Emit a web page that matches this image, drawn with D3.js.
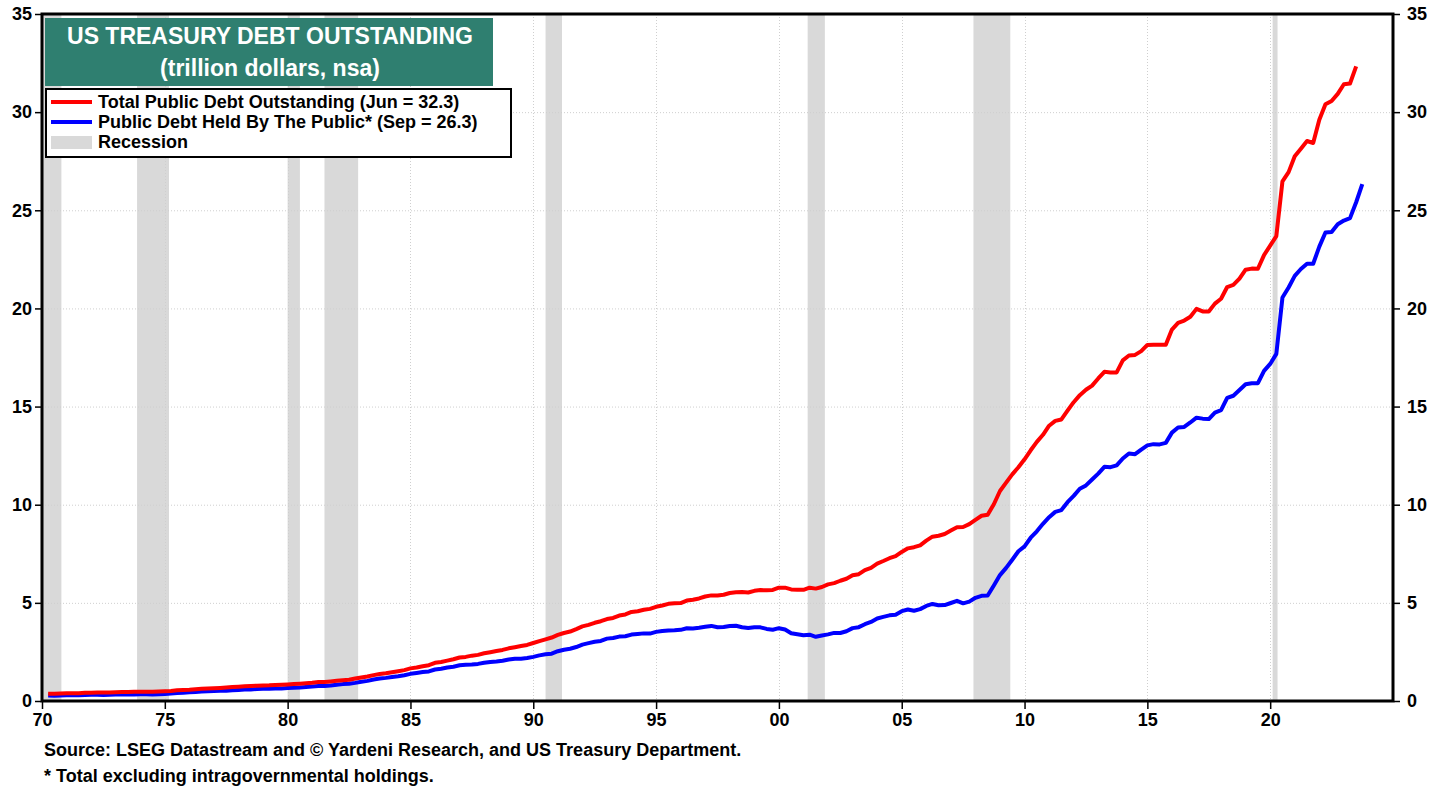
<!DOCTYPE html>
<html>
<head>
<meta charset="utf-8">
<script src="https://cdn.jsdelivr.net/npm/d3@7"></script>
<style>
  html, body { margin: 0; padding: 0; background: #fff; }
  svg { display: block; font-family: "Liberation Sans", Arial, sans-serif; }
</style>
</head>
<body>
<svg id="chart" width="1446" height="789"></svg>
<script>
// ---------- DATA (quarter-end values, trillion dollars) ----------
const firstYear = 1970; // first value is 1970 Q1 (end of March)

// Total Public Debt Outstanding, 1970Q1 .. 2023Q2
const totalDebt = [
  0.372, 0.371, 0.381, 0.389,   0.391, 0.398, 0.415, 0.424,
  0.428, 0.427, 0.437, 0.449,   0.458, 0.458, 0.466, 0.470,
  0.474, 0.475, 0.483, 0.493,   0.509, 0.544, 0.563, 0.577,
  0.599, 0.620, 0.634, 0.654,   0.667, 0.686, 0.709, 0.729,
  0.749, 0.763, 0.780, 0.790,   0.797, 0.812, 0.827, 0.845,
  0.863, 0.883, 0.907, 0.930,   0.964, 0.971, 0.998, 1.028,
  1.062, 1.080, 1.142, 1.197,   1.245, 1.319, 1.377, 1.410,
  1.464, 1.517, 1.572, 1.663,   1.710, 1.774, 1.823, 1.945,
  1.986, 2.059, 2.125, 2.214,   2.246, 2.310, 2.350, 2.431,
  2.487, 2.547, 2.602, 2.684,   2.740, 2.799, 2.857, 2.953,
  3.052, 3.143, 3.233, 3.364,   3.465, 3.538, 3.665, 3.801,
  3.881, 3.985, 4.065, 4.177,   4.230, 4.352, 4.411, 4.536,
  4.576, 4.645, 4.693, 4.800,   4.864, 4.951, 4.974, 4.989,
  5.117, 5.161, 5.224, 5.323,   5.380, 5.376, 5.413, 5.502,
  5.542, 5.548, 5.526, 5.614,   5.651, 5.639, 5.656, 5.776,
  5.773, 5.686, 5.674, 5.662,   5.773, 5.726, 5.807, 5.943,
  6.006, 6.126, 6.228, 6.405,   6.460, 6.670, 6.783, 6.998,
  7.131, 7.274, 7.379, 7.596,   7.777, 7.836, 7.933, 8.170,
  8.371, 8.420, 8.507, 8.680,   8.849, 8.867, 9.008, 9.229,
  9.437, 9.492, 10.025, 10.700, 11.127, 11.545, 11.910, 12.311,
  12.773, 13.202, 13.562, 14.025, 14.270, 14.343, 14.790, 15.223,
  15.582, 15.856, 16.066, 16.433, 16.772, 16.738, 16.738, 17.352,
  17.601, 17.633, 17.824, 18.141, 18.152, 18.152, 18.151, 18.922,
  19.264, 19.381, 19.573, 19.977, 19.847, 19.845, 20.245, 20.493,
  21.090, 21.195, 21.516, 21.974, 22.028, 22.023, 22.719, 23.201,
  23.687, 26.477, 26.945, 27.748, 28.133, 28.529, 28.429, 29.617,
  30.401, 30.569, 30.929, 31.420, 31.459, 32.332
];

// Public Debt Held By The Public, 1970Q1 .. 2023Q3
const heldByPublic = [
  0.278, 0.271, 0.281, 0.290,   0.289, 0.292, 0.302, 0.314,
  0.317, 0.312, 0.318, 0.332,   0.337, 0.334, 0.337, 0.340,
  0.341, 0.335, 0.341, 0.355,   0.376, 0.407, 0.426, 0.441,
  0.464, 0.479, 0.493, 0.506,   0.517, 0.527, 0.550, 0.565,
  0.586, 0.590, 0.609, 0.618,   0.627, 0.634, 0.640, 0.658,
  0.677, 0.692, 0.716, 0.738,   0.762, 0.763, 0.785, 0.830,
  0.860, 0.878, 0.924, 0.980,   1.025, 1.096, 1.141, 1.178,
  1.224, 1.264, 1.313, 1.384,   1.427, 1.476, 1.507, 1.604,
  1.646, 1.705, 1.747, 1.818,   1.842, 1.859, 1.890, 1.949,
  1.992, 2.012, 2.051, 2.110,   2.154, 2.156, 2.191, 2.249,
  2.323, 2.378, 2.412, 2.537,   2.612, 2.664, 2.750, 2.871,
  2.948, 3.022, 3.061, 3.178,   3.210, 3.282, 3.298, 3.385,
  3.414, 3.445, 3.433, 3.521,   3.564, 3.597, 3.603, 3.624,
  3.708, 3.699, 3.734, 3.782,   3.826, 3.755, 3.773, 3.824,
  3.832, 3.754, 3.721, 3.756,   3.754, 3.673, 3.633, 3.710,
  3.645, 3.456, 3.405, 3.352,   3.377, 3.272, 3.339, 3.393,
  3.469, 3.465, 3.554, 3.712,   3.762, 3.913, 4.029, 4.202,
  4.283, 4.363, 4.399, 4.578,   4.664, 4.596, 4.680, 4.842,
  4.944, 4.877, 4.887, 4.992,   5.102, 4.976, 5.064, 5.258,
  5.360, 5.378, 5.885, 6.415,   6.780, 7.199, 7.630, 7.877,
  8.318, 8.647, 9.026, 9.363,   9.635, 9.727, 10.128, 10.448,
  10.813, 10.985, 11.282, 11.584, 11.931, 11.911, 12.004, 12.355,
  12.610, 12.573, 12.808, 13.023, 13.086, 13.073, 13.150, 13.673,
  13.937, 13.965, 14.190, 14.435, 14.385, 14.362, 14.690, 14.815,
  15.442, 15.551, 15.842, 16.138, 16.186, 16.193, 16.819, 17.172,
  17.684, 20.555, 21.068, 21.659, 22.009, 22.280, 22.274, 23.148,
  23.871, 23.892, 24.288, 24.478, 24.601, 25.410, 26.330
];

// NBER recessions (decimal years: start, end)
const recessionStart = [1969.92, 1973.87, 1980.0, 1981.5, 1990.5, 2001.17, 2007.92, 2020.1];
const recessionEnd   = [1970.79, 1975.17, 1980.5, 1982.87, 1991.17, 2001.87, 2009.42, 2020.3];

const xTickYears  = [1970, 1975, 1980, 1985, 1990, 1995, 2000, 2005, 2010, 2015, 2020];
const xTickLabels = ["70", "75", "80", "85", "90", "95", "00", "05", "10", "15", "20"];
const yTicks = [0, 5, 10, 15, 20, 25, 30, 35];

const titleLines = ["US TREASURY DEBT OUTSTANDING", "(trillion dollars, nsa)"];
const legendLabels = [
  "Total Public Debt Outstanding (Jun = 32.3)",
  "Public Debt Held By The Public* (Sep = 26.3)",
  "Recession"
];
const footnotes = [
  "Source: LSEG Datastream and \u00A9 Yardeni Research, and US Treasury Department.",
  "* Total excluding intragovernmental holdings."
];

// ---------- LAYOUT ----------
const svg = d3.select("#chart");
const L = 42, R = 1393, T = 14, B = 701;

const x = d3.scaleLinear().domain([1970, 2025]).range([L, R]);
const y = d3.scaleLinear().domain([0, 35]).range([B, T]);

const toPoints = arr => arr.map((v, i) => ({ t: firstYear + (i + 1) * 0.25, v }));

// recession bands
svg.append("g").selectAll("rect")
  .data(recessionStart.map((s, i) => ({ s: Math.max(s, 1970), e: recessionEnd[i] })))
  .join("rect")
  .attr("x", d => x(d.s))
  .attr("width", d => x(d.e) - x(d.s))
  .attr("y", T)
  .attr("height", B - T)
  .attr("fill", "#d9d9d9");

// grid
const grid = svg.append("g").attr("stroke", "#cfcfcf").attr("stroke-width", 1).attr("stroke-dasharray", "1,2");
grid.selectAll(".gy").data(yTicks.slice(1, -1)).join("line")
  .attr("x1", L).attr("x2", R).attr("y1", d => y(d) + 0.5).attr("y2", d => y(d) + 0.5);
grid.selectAll(".gx").data(xTickYears.slice(1)).join("line")
  .attr("y1", T).attr("y2", B).attr("x1", d => Math.round(x(d)) + 0.5).attr("x2", d => Math.round(x(d)) + 0.5);

// lines
const line = d3.line().x(d => x(d.t)).y(d => y(d.v));
svg.append("path").datum(toPoints(heldByPublic))
  .attr("d", line).attr("fill", "none").attr("stroke", "#0000ff")
  .attr("stroke-width", 4).attr("stroke-linejoin", "round");
svg.append("path").datum(toPoints(totalDebt))
  .attr("d", line).attr("fill", "none").attr("stroke", "#ff0000")
  .attr("stroke-width", 4).attr("stroke-linejoin", "round");

// frame
svg.append("rect").attr("x", L).attr("y", T).attr("width", R - L).attr("height", B - T)
  .attr("fill", "none").attr("stroke", "#000").attr("stroke-width", 3);

// axes
const axisStyle = g => {
  g.select(".domain").remove();
  g.selectAll(".tick line").attr("stroke", "#000").attr("stroke-width", 1.5);
  g.selectAll(".tick text").attr("fill", "#000").attr("font-weight", "bold")
    .attr("font-size", 18).attr("font-family", "Liberation Sans, Arial, sans-serif");
};
svg.append("g").attr("transform", `translate(${L - 1},0)`)
  .call(d3.axisLeft(y).tickValues(yTicks).tickSize(6).tickPadding(3)).call(axisStyle);
svg.append("g").attr("transform", `translate(${R + 1},0)`)
  .call(d3.axisRight(y).tickValues(yTicks).tickSize(6).tickPadding(7)).call(axisStyle);
svg.append("g").attr("transform", `translate(0,${B + 1})`)
  .call(d3.axisBottom(x).tickValues(xTickYears).tickFormat((d, i) => xTickLabels[i]).tickSize(7).tickPadding(4))
  .call(axisStyle);

// title box
svg.append("rect").attr("x", 45).attr("y", 18).attr("width", 448).attr("height", 68).attr("fill", "#2f7f70");
svg.append("g").selectAll("text").data(titleLines).join("text")
  .attr("x", 270).attr("y", (d, i) => 44 + i * 32)
  .attr("text-anchor", "middle").attr("fill", "#fff")
  .attr("font-weight", "bold").attr("font-size", 23)
  .text(d => d);

// legend
const lg = svg.append("g");
lg.append("rect").attr("x", 46).attr("y", 89).attr("width", 465).attr("height", 68)
  .attr("fill", "#fff").attr("stroke", "#000").attr("stroke-width", 2);
const legendColors = ["#ff0000", "#0000ff", "#d9d9d9"];
legendLabels.forEach((lab, i) => {
  const cy = 102 + i * 20;
  if (i < 2) {
    lg.append("line").attr("x1", 51).attr("x2", 92).attr("y1", cy).attr("y2", cy)
      .attr("stroke", legendColors[i]).attr("stroke-width", 4);
  } else {
    lg.append("rect").attr("x", 51).attr("y", cy - 6).attr("width", 41).attr("height", 13)
      .attr("fill", legendColors[i]);
  }
  lg.append("text").attr("x", 98).attr("y", cy + 6).attr("font-weight", "bold")
    .attr("font-size", 18).attr("fill", "#000").text(lab);
});

// footnotes
svg.append("g").selectAll("text").data(footnotes).join("text")
  .attr("x", 44).attr("y", (d, i) => 756 + i * 26)
  .attr("font-weight", "bold").attr("font-size", 18).attr("fill", "#000")
  .text(d => d);
</script>
</body>
</html>
